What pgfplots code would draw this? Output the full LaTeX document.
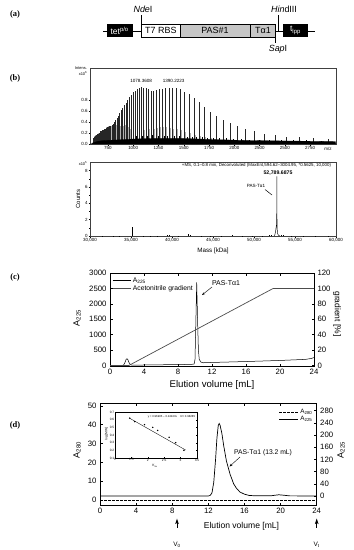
\documentclass[border=0pt]{standalone}
\usepackage{pgfplots}
\pgfplotsset{compat=1.18}
\usepackage{fontspec}
\setmainfont{Liberation Sans}
\newfontfamily\serif{Liberation Serif}
\usetikzlibrary{arrows.meta}
\pgfplotsset{
 bstyle/.style={scale only axis, anchor=south west, axis line style={line width=0.4bp, black!75},
   tick style={line width=0.3bp, black}, tick align=outside, major tick length=1.5bp, minor tick length=0.8bp,
   xtick pos=bottom, ytick pos=left, ticklabel style={font=\fontsize{4.5}{5}\selectfont, inner sep=0.8bp},
   /pgf/number format/assume math mode=true, scaled ticks=false},
 cstyle/.style={scale only axis, anchor=south west, axis line style={line width=0.6bp},
   tick style={line width=0.5bp, black}, tick align=inside, major tick length=2.5bp,
   ticklabel style={font=\fontsize{7.8}{9}\selectfont},
   /pgf/number format/assume math mode=true, /pgf/number format/1000 sep={}, scaled ticks=false},
}
\begin{document}
\begin{tikzpicture}
\path[use as bounding box] (0,0) rectangle (354bp,-550bp);
% panel labels
\node[font=\serif\bfseries\fontsize{8.5}{10}\selectfont] at (15bp,-14bp) {(a)};
\node[font=\serif\bfseries\fontsize{8.5}{10}\selectfont] at (15bp,-78bp) {(b)};
\node[font=\serif\bfseries\fontsize{8.5}{10}\selectfont] at (15bp,-277bp) {(c)};
\node[font=\serif\bfseries\fontsize{8.5}{10}\selectfont] at (15bp,-425bp) {(d)};

% ---------- (a) construct ----------
\draw[line width=0.8bp] (103bp,-31bp) -- (315bp,-31bp);
\fill[black] (106.7bp,-24.3bp) rectangle (132.7bp,-36.7bp);
\node[white, font=\fontsize{8.5}{9}\selectfont] at (119.7bp,-30.6bp) {tet\textsuperscript{p/o}};
\draw[line width=0.5bp, fill=white] (141.7bp,-24.3bp) rectangle (180bp,-37bp);
\draw[line width=0.5bp, fill=gray!45] (180bp,-24.3bp) rectangle (250bp,-37bp);
\draw[line width=0.5bp, fill=gray!45] (250bp,-24.3bp) rectangle (275.7bp,-37bp);
\node[font=\fontsize{9}{10}\selectfont] at (160.8bp,-30.6bp) {T7 RBS};
\node[font=\fontsize{9}{10}\selectfont] at (215bp,-30.6bp) {PAS\#1};
\node[font=\fontsize{9}{10}\selectfont] at (263bp,-30.6bp) {Tα1};
\fill[black] (282.7bp,-24.3bp) rectangle (308.3bp,-36.7bp);
\node[white, font=\fontsize{8.5}{9}\selectfont] at (295.5bp,-30.6bp) {t\textsubscript{lpp}};
\draw[line width=0.5bp] (141.7bp,-15bp) -- (141.7bp,-24.3bp);
\node[font=\fontsize{9}{10}\selectfont] at (143bp,-9.5bp) {\textit{Nde}I};
\draw[line width=0.5bp] (278bp,-15bp) -- (278bp,-31bp);
\node[font=\fontsize{9}{10}\selectfont] at (284bp,-9.5bp) {\textit{Hin}dIII};
\draw[line width=0.5bp] (275.7bp,-37bp) -- (275.7bp,-43bp);
\node[font=\fontsize{9}{10}\selectfont] at (278bp,-49bp) {\textit{Sap}I};

% ---------- (b) top: mass spectrum ----------
\begin{axis}[bstyle, at={(90bp,-144bp)}, width=246bp, height=76bp,
  xmin=572, xmax=3007, ymin=0, ymax=1.38,
  xtick={750,1000,1250,1500,1750,2000,2250,2500,2750},
  xticklabels={750,1000,1250,1500,1750,2000,2500,2500,2750},
  minor x tick num=4,
  ytick={0,0.2,0.4,0.6,0.8}, yticklabels={0.0,0.2,0.4,0.6,0.8}]
\addplot[ycomb, gray!60, line width=0.5bp] coordinates {
(1775,0.10)(1715,0.12)(1662,0.14)(1611,0.17)(1564,0.20)(1519,0.22)(1477,0.25)(1437,0.27)
(1400,0.28)(1364,0.29)(1330,0.30)(1297,0.30)(1266,0.30)(1237,0.29)(1208,0.28)(1181,0.28)
(1155,0.27)(1130,0.27)(1107,0.26)(1084,0.25)(1062,0.25)(1041,0.25)(1021,0.25)(1002,0.26)
(984,0.27)(966,0.28)(949,0.30)(932,0.32)(916,0.34)(900,0.33)(885,0.33)(870,0.33)
(856,0.34)(843,0.34)(830,0.34)(817,0.34)(805,0.34)(793,0.34)(782,0.33)(771,0.33)
(760,0.33)(749,0.32)(729,0.30)(709,0.28)(690,0.26)(672,0.22)(655,0.20)(640,0.18)
(625,0.17)(612,0.14)(600,0.10)};
\addplot[ycomb, black!85, line width=0.5bp] coordinates {
(2934,0.09)(2779,0.11)(2640,0.12)(2515,0.13)(2401,0.16)(2296,0.19)(2200,0.23)(2113,0.27)
(2031,0.32)(1956,0.38)(1886,0.43)(1821,0.50)(1761,0.58)(1704,0.68)(1651,0.76)(1601,0.84)
(1554,0.90)(1509,0.95)(1467,0.99)(1428,1.01)(1390,1.02)(1355,1.02)(1321,1.01)(1289,1.00)
(1258,1.00)(1229,0.98)(1201,0.97)(1174,0.97)(1149,0.99)(1124,1.01)(1101,1.02)(1078,1.03)
(1057,1.02)(1036,1.00)(1016,0.97)(997,0.94)(979,0.89)(961,0.85)(944,0.80)(927,0.75)
(911,0.70)(896,0.66)(881,0.61)(866,0.56)(852,0.51)(839,0.47)(826,0.43)(813,0.40)
(801,0.37)(789,0.35)(777,0.33)(766,0.32)(755,0.31)(744,0.30)(734,0.29)(724,0.28)
(714,0.27)(705,0.26)(696,0.25)(687,0.24)(678,0.23)(669,0.22)(661,0.20)(653,0.19)
(645,0.18)(637,0.17)(629,0.16)(622,0.14)(615,0.12)(608,0.10)(601,0.08)};
\addplot[ycomb, black, line width=0.4bp] coordinates {
(1030,0.14)(1090,0.15)(1140,0.15)(1190,0.16)(1245,0.15)(1305,0.15)(1340,0.14)(1410,0.14)
(1450,0.14)(1530,0.13)(1580,0.12)(1625,0.12)(1680,0.12)(1730,0.11)(1790,0.11)(1850,0.10)
(1920,0.10)(1990,0.09)(2070,0.09)(2150,0.08)(2250,0.08)(2350,0.08)(2460,0.07)(2580,0.07)
(2710,0.07)(2860,0.06)};
\addplot[fill=black, draw=black, line width=0.3bp] coordinates {
(585,0)(600,0.02)(650,0.05)(700,0.06)(800,0.07)(1000,0.09)(1200,0.10)(1500,0.10)
(1800,0.08)(2100,0.065)(2500,0.055)(3000,0.045)(3005,0)};
\node[font=\fontsize{4.6}{5}\selectfont] at (axis cs:1078,1.14) {1078.3608};
\node[font=\fontsize{4.6}{5}\selectfont] at (axis cs:1400,1.14) {1390.2223};
\end{axis}
\node[font=\fontsize{4}{4.5}\selectfont] at (81bp,-68.5bp) {Intens.};
\node[font=\fontsize{4}{4.5}\selectfont] at (83bp,-73.5bp) {x10\textsuperscript{6}};
\node[font=\fontsize{4.5}{5}\selectfont] at (328bp,-149.3bp) {m/z};

% ---------- (b) bottom: deconvoluted ----------
\begin{axis}[bstyle, at={(90bp,-236bp)}, width=246bp, height=74bp,
  xmin=30000, xmax=60000, ymin=0, ymax=9.05,
  xtick={30000,35000,40000,45000,50000,55000,60000},
  xticklabels={{30,000},{35,000},{40,000},{45,000},{50,000},{55,000},{60,000}},
  minor x tick num=4, minor y tick num=1,
  ytick={0,2,4,6,8}]
\addplot[ycomb, black, line width=0.4bp] coordinates {
(31500,0.06)(32800,0.05)(33600,0.05)(35100,1.05)(35180,0.55)(36500,0.05)(37400,0.05)
(38200,0.06)(39400,0.15)(39600,0.08)(40800,0.05)(42000,0.20)(42200,0.10)(43500,0.06)
(44700,0.06)(46000,0.05)(47300,0.07)(48600,0.06)(49800,0.06)(51000,0.06)(51800,0.12)
(52100,0.15)(53300,0.12)(53600,0.10)(54500,0.05)(56000,0.05)(57500,0.05)(59000,0.05)};
\addplot[black, line width=0.45bp] coordinates {
(52450,0)(52560,0.2)(52640,0.6)(52700,1.1)(52740,1.3)(52770,2.5)(52789.7,7.3)(52805,2.2)
(52830,0.8)(52880,0.3)(52980,0.1)(53150,0)};
\end{axis}
\node[font=\fontsize{4.4}{5}\selectfont, anchor=east] at (334.5bp,-165.5bp) {+MS, 0.1–0.8 min, Deconvoluted (MaxEnt,594.62–3004.95, *0.5625, 10,000)};
\node[font=\bfseries\fontsize{5.2}{6}\selectfont] at (278bp,-173bp) {52,789.6875};
\node[font=\fontsize{4.6}{5}\selectfont] at (256bp,-185.5bp) {PAS-Tα1};
\draw[line width=0.5bp] (265bp,-189.5bp) -- (272bp,-195bp);
\node[font=\fontsize{4}{4.5}\selectfont] at (83bp,-163.5bp) {x10\textsuperscript{5}};
\node[font=\fontsize{6}{7}\selectfont, rotate=90] at (78bp,-199bp) {Counts};
\node[font=\fontsize{6.3}{7}\selectfont] at (213bp,-251bp) {Mass [kDa]};

% ---------- (c) RP-HPLC ----------
\begin{axis}[cstyle, at={(110bp,-366bp)}, width=204bp, height=93bp,
  xmin=0, xmax=24, ymin=-15, ymax=3000,
  xtick={0,4,...,24}, ytick={0,500,...,3000}, ytick pos=left]
\addplot[black, line width=0.5bp] coordinates {
(0,0)(1.4,0)(1.6,15)(1.75,90)(1.9,200)(2.0,220)(2.1,190)(2.25,90)(2.4,30)(2.6,10)
(3,12)(4,18)(6,25)(8,30)(9.6,38)(9.9,50)(10.0,200)(10.1,1400)(10.2,2700)(10.3,1500)
(10.4,500)(10.5,200)(10.7,110)(11,90)(12,100)(16,130)(20,165)(23,200)(23.7,230)(24,260)};
\end{axis}
\begin{axis}[cstyle, at={(110bp,-366bp)}, width=204bp, height=93bp,
  xmin=0, xmax=24, ymin=-0.6, ymax=120, axis x line=none, axis y line*=right,
  ytick={0,20,...,120},
  legend style={at={(0.005,0.985)}, anchor=north west, draw=none, fill=none,
    font=\fontsize{6.8}{7}\selectfont, row sep=-2.5bp, inner sep=1bp},
  legend cell align=left,
  legend image code/.code={\draw[#1] (0bp,0bp) -- (18bp,0bp);}]
\addlegendimage{black, line width=0.5bp}
\addlegendentry{A\textsubscript{225}}
\addplot[black!70, line width=0.7bp] coordinates {(0,0)(2.2,0)(19.2,100)(24,100)};
\addlegendentry{Acetonitrile gradient}
\end{axis}
\node[font=\fontsize{7}{8}\selectfont] at (226bp,-283bp) {PAS-Tα1};
\draw[line width=0.4bp, -{Stealth[length=3bp,width=2.2bp]}] (212bp,-287bp) -- (202bp,-295bp);
\node[font=\fontsize{9}{10}\selectfont, rotate=90] at (77bp,-318bp) {A\textsubscript{225}};
\node[font=\fontsize{8.5}{10}\selectfont, rotate=-90] at (337bp,-314bp) {gradient [\%]};
\node[font=\fontsize{9.7}{11}\selectfont] at (212bp,-385bp) {Elution volume [mL]};

% ---------- (d) SEC ----------
\begin{axis}[cstyle, at={(100bp,-505bp)}, width=216.7bp, height=101.7bp,
  xmin=0, xmax=24, ymin=-2.6, ymax=51.3,
  xtick={0,4,...,24}, ytick={0,10,...,50}, ytick pos=left]
\addplot[black, line width=0.6bp, dash pattern=on 2.5bp off 1.5bp] coordinates {(0,0)(24,0)};
\end{axis}
\begin{axis}[cstyle, at={(100bp,-505bp)}, width=216.7bp, height=101.7bp,
  xmin=0, xmax=24, ymin=-29.5, ymax=304, axis x line=none, axis y line*=right,
  ytick={0,40,...,280},
  legend style={at={(0.995,0.975)}, anchor=north east, draw=none, fill=none,
    font=\fontsize{6.3}{7}\selectfont, row sep=-2.5bp, inner sep=1bp},
  legend cell align=left,
  legend image code/.code={\draw[#1] (0bp,0bp) -- (19bp,0bp);}]
\addlegendimage{black, line width=0.6bp, dash pattern=on 2.5bp off 1.5bp}
\addlegendentry{A\textsubscript{280}}
\addplot[black, line width=0.7bp] coordinates {
(0,0)(12,0)(12.2,2)(12.4,10)(12.6,45)(12.8,120)(12.95,190)(13.1,232)(13.2,238)(13.3,232)
(13.5,205)(13.7,165)(14.0,115)(14.4,72)(14.8,40)(15.1,26)(15.5,13)(16.0,6)(16.5,2)(17,1)
(19,1)(19.5,3)(19.8,4)(20.2,3)(21,0.5)(24,0)};
\addlegendentry{A\textsubscript{225}}
\end{axis}
% inset
\begin{axis}[scale only axis, anchor=south west, at={(115bp,-458bp)}, width=82bp, height=46bp,
  xmin=1, xmax=3.5, ymin=0.1, ymax=0.7,
  axis background/.style={fill=white},
  axis line style={line width=0.3bp}, tick style={line width=0.25bp, black}, tick align=inside,
  major tick length=1bp,
  xtick={1,1.5,...,3.5}, ytick={0.1,0.2,...,0.7},
  ticklabel style={font=\fontsize{3.2}{3.5}\selectfont, inner sep=0.6bp},
  /pgf/number format/assume math mode=true]
\addplot[black, line width=0.35bp] coordinates {(1.45,0.618)(3.15,0.205)};
\addplot[only marks, mark=*, mark size=0.5bp, black] coordinates {
(1.45,0.62)(1.6,0.575)(1.9,0.535)(2.15,0.50)(2.3,0.46)(2.65,0.37)(2.85,0.30)(3.1,0.20)};
\node[font=\fontsize{2.8}{3}\selectfont] at (axis cs:2.72,0.64) {y = 0.96905 – 0.24243x \quad R= 0.98285};
\end{axis}
\node[font=\fontsize{3.3}{4}\selectfont, rotate=90] at (106.5bp,-434bp) {log [MW]};
\node[font=\fontsize{3.3}{4}\selectfont] at (155bp,-465.5bp) {K\textsubscript{av}};
\node[font=\fontsize{6.8}{8}\selectfont] at (263bp,-453bp) {PAS-Tα1 (13.2 mL)};
\draw[line width=0.4bp, -{Stealth[length=3bp,width=2.2bp]}] (240bp,-457bp) -- (229.5bp,-466.5bp);
\node[font=\fontsize{9}{10}\selectfont, rotate=90] at (77bp,-450bp) {A\textsubscript{280}};
\node[font=\fontsize{9}{10}\selectfont, rotate=90] at (341bp,-450bp) {A\textsubscript{225}};
\node[font=\fontsize{8.6}{10}\selectfont] at (241.5bp,-526bp) {Elution volume [mL]};
\fill[black] (177bp,-518.5bp) -- (175.2bp,-524bp) -- (177bp,-523bp) -- (178.8bp,-524bp) -- cycle;
\draw[line width=0.5bp] (177bp,-522bp) -- (177bp,-528bp);
\fill[black] (316.7bp,-518.5bp) -- (314.9bp,-524bp) -- (316.7bp,-523bp) -- (318.5bp,-524bp) -- cycle;
\draw[line width=0.5bp] (316.7bp,-522bp) -- (316.7bp,-528bp);
\node[font=\fontsize{6.5}{7}\selectfont] at (177bp,-545bp) {V\textsubscript{0}};
\node[font=\fontsize{6.5}{7}\selectfont] at (316.7bp,-545bp) {V\textsubscript{t}};
\end{tikzpicture}
\end{document}
